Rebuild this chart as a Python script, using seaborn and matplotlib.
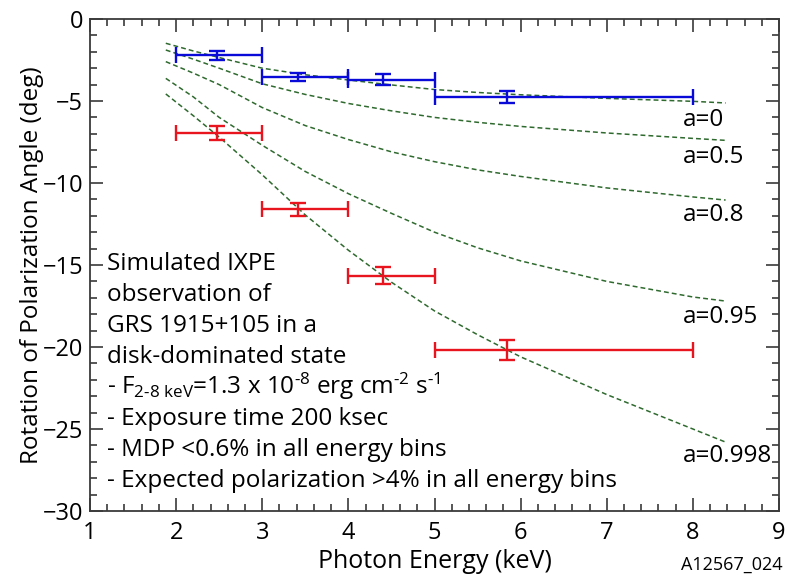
import numpy as np
import pandas as pd
import matplotlib
matplotlib.use("Agg")
import matplotlib.pyplot as plt
from matplotlib.ticker import MultipleLocator
import seaborn as sns

# Energy bins (keV) and measured rotation angles (deg)
bin_lo = [2.0, 3.0, 4.0, 5.0]
bin_hi = [3.0, 4.0, 5.0, 8.0]
bin_center = [2.47, 3.42, 4.40, 5.84]

blue_angle = [-2.2, -3.55, -3.7, -4.75]
blue_err = [0.27, 0.25, 0.35, 0.37]
red_angle = [-6.95, -11.6, -15.65, -20.18]
red_err = [0.43, 0.40, 0.50, 0.60]

# Model curves for different spin parameters
model_energy = [1.88, 2.2, 2.5, 3.0, 3.5, 4.0, 4.5, 5.0, 5.5, 6.0, 7.0, 8.0, 8.38]
spin_labels = ["a=0", "a=0.5", "a=0.8", "a=0.95", "a=0.998"]
model_a0 = [-1.48, -1.95, -2.35, -3.0, -3.4, -3.72, -4.02, -4.3, -4.48, -4.62, -4.84, -5.02, -5.12]
model_a05 = [-1.89, -2.45, -3.0, -3.95, -4.6, -5.15, -5.6, -6.0, -6.3, -6.55, -6.95, -7.28, -7.4]
model_a08 = [-2.6, -3.3, -4.0, -5.4, -6.5, -7.35, -8.1, -8.7, -9.2, -9.6, -10.3, -10.85, -11.04]
model_a095 = [-3.62, -4.75, -6.0, -7.7, -9.3, -10.65, -11.85, -13.0, -13.95, -14.75, -16.0, -16.95, -17.2]
model_a0998 = [-4.57, -5.9, -7.2, -9.5, -11.95, -14.1, -16.05, -17.8, -19.25, -20.6, -22.9, -25.0, -25.8]

annotation_lines = [
    "Simulated IXPE",
    "observation of",
    "GRS 1915+105 in a",
    "disk-dominated state",
    r"- F$_{\mathregular{2\text{-}8\ keV}}$=1.3 x 10$^{\mathregular{\text{-}8}}$ erg cm$^{\mathregular{\text{-}2}}$ s$^{\mathregular{\text{-}1}}$",
    "- Exposure time 200 ksec",
    "- MDP <0.6% in all energy bins",
    "- Expected polarization >4% in all energy bins",
]

sns.set_theme(style="ticks")
plt.rcParams["font.family"] = ["Open Sans", "DejaVu Sans"]
plt.rcParams["mathtext.fontset"] = "custom"
plt.rcParams["mathtext.rm"] = "Open Sans"
plt.rcParams["mathtext.it"] = "Open Sans:italic"
plt.rcParams["mathtext.bf"] = "Open Sans:bold"
plt.rcParams["text.color"] = "black"
plt.rcParams["axes.labelcolor"] = "black"

fig = plt.figure(figsize=(7.97, 5.77), dpi=100)
ax = fig.add_axes([90 / 797, 1 - 511 / 577, 689 / 797, 492 / 577])

models = pd.DataFrame({
    "energy": model_energy * 5,
    "angle": model_a0 + model_a05 + model_a08 + model_a095 + model_a0998,
    "spin": sum([[s] * len(model_energy) for s in spin_labels], []),
})
green = "#2f6a2f"
for spin in spin_labels:
    sub = models[models["spin"] == spin]
    sns.lineplot(data=sub, x="energy", y="angle", ax=ax, color=green,
                 linewidth=1.1, linestyle=(0, (3.2, 2.0)), estimator=None,
                 sort=False, legend=False)

xerr = [np.subtract(bin_center, bin_lo), np.subtract(bin_hi, bin_center)]
for ang, err, col in [(blue_angle, blue_err, "#0a0ad8"), (red_angle, red_err, "#e8141e")]:
    ax.errorbar(bin_center, ang, xerr=xerr, yerr=err, fmt="none", ecolor=col,
                elinewidth=1.7, capsize=6, capthick=1.7)

ax.set_xlim(1, 9)
ax.set_ylim(-30, 0)
ax.xaxis.set_major_locator(MultipleLocator(1))
ax.xaxis.set_minor_locator(MultipleLocator(0.2))
ax.yaxis.set_major_locator(MultipleLocator(5))
ax.yaxis.set_minor_locator(MultipleLocator(1))
ax.tick_params(which="both", direction="in", top=True, right=True,
               color="#3a3a3a", width=1.2)
ax.tick_params(which="major", length=9.5, labelsize=17, pad=7, colors="#3a3a3a",
               labelcolor="black")
ax.tick_params(which="minor", length=4.8)
ax.tick_params(axis="y", which="major", pad=5)
for sp in ax.spines.values():
    sp.set_color("#3a3a3a")
    sp.set_linewidth(1.3)

ax.set_xlabel("Photon Energy (keV)", fontsize=18, labelpad=3)
ax.set_ylabel("Rotation of Polarization Angle (deg)", fontsize=17.5, labelpad=-1)

# spin labels at the right end of the model curves
label_y = [-6.52, -8.78, -12.32, -18.54, -27.0]
for lab, yy in zip(spin_labels, label_y):
    ax.text(7.88, yy, lab, fontsize=17.5, va="baseline", ha="left")

# description block
for i, line in enumerate(annotation_lines):
    base_px = 270 + 31 * i
    ax.text(17 / 689, (511 - base_px) / 492, line, transform=ax.transAxes,
            fontsize=17.5, va="baseline", ha="left")

fig.text(783 / 797, 1 - 570 / 577, "A12567_024", fontsize=13, ha="right",
         va="baseline")

fig.savefig("out.png", dpi=100)
